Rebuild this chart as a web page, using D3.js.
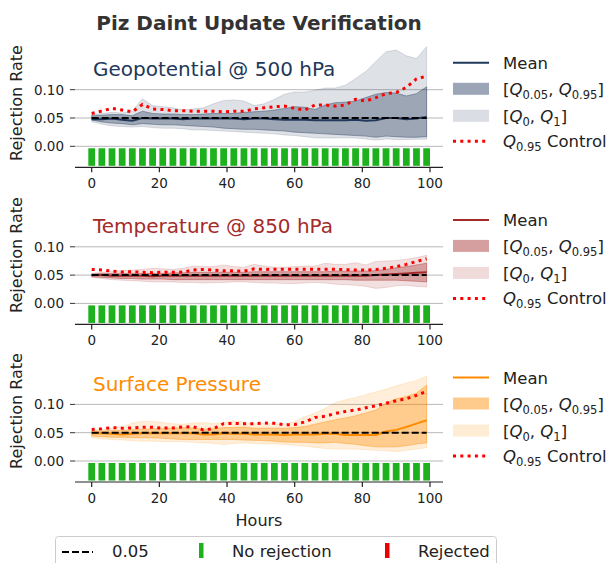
<!DOCTYPE html>
<html><head><meta charset="utf-8">
<script src="https://cdn.jsdelivr.net/npm/d3@7"></script>
<style>body{margin:0;background:#fff}svg{display:block}text{font-family:"DejaVu Sans",sans-serif}</style>
</head><body><svg id="c" width="611" height="563"></svg>
<script>
const hours = [0,3,6,9,12,15,18,21,24,27,30,33,36,39,42,45,48,51,54,57,60,63,66,69,72,75,78,81,84,87,90,93,96,99];
const xTicks = [0,20,40,60,80,100];
const yTicks = [0.00,0.05,0.10];
const threshold = 0.05;

const geoMean = [0.048,0.048,0.049,0.047,0.045,0.050,0.049,0.049,0.049,0.048,0.049,0.049,0.049,0.049,0.049,0.048,0.049,0.049,0.048,0.047,0.047,0.047,0.046,0.046,0.046,0.046,0.047,0.045,0.046,0.050,0.050,0.048,0.049,0.052];
const geoQ05 = [0.0465,0.043,0.041,0.040,0.038,0.040,0.039,0.038,0.038,0.037,0.036,0.035,0.034,0.032,0.031,0.030,0.030,0.029,0.028,0.027,0.025,0.024,0.023,0.022,0.021,0.020,0.019,0.018,0.016,0.018,0.017,0.016,0.016,0.017];
const geoQ95 = [0.054,0.055,0.056,0.056,0.054,0.062,0.058,0.057,0.057,0.056,0.056,0.057,0.058,0.058,0.058,0.060,0.061,0.062,0.064,0.067,0.070,0.069,0.065,0.073,0.077,0.078,0.080,0.086,0.092,0.095,0.094,0.089,0.093,0.105];
const geoQ0 = [0.0435,0.039,0.036,0.035,0.034,0.035,0.033,0.032,0.032,0.031,0.029,0.029,0.028,0.027,0.026,0.025,0.024,0.023,0.022,0.020,0.019,0.017,0.015,0.0145,0.0145,0.015,0.0145,0.013,0.011,0.013,0.012,0.012,0.0125,0.0125];
const geoQ1 = [0.056,0.058,0.060,0.059,0.062,0.084,0.072,0.070,0.068,0.064,0.066,0.068,0.075,0.081,0.082,0.080,0.072,0.075,0.083,0.092,0.096,0.096,0.099,0.103,0.103,0.108,0.120,0.132,0.150,0.167,0.170,0.160,0.155,0.176];
const geoCtrl = [0.058,0.0625,0.067,0.064,0.061,0.074,0.066,0.065,0.063,0.063,0.062,0.062,0.062,0.061,0.062,0.062,0.066,0.068,0.070,0.071,0.067,0.064,0.073,0.073,0.071,0.073,0.083,0.080,0.086,0.093,0.095,0.104,0.119,0.124];
const geoRejected = [0,0,0,0,0,0,0,0,0,0,0,0,0,0,0,0,0,0,0,0,0,0,0,0,0,0,0,0,0,0,0,0,0,0];

const tMean = [0.050,0.050,0.049,0.049,0.049,0.049,0.048,0.049,0.049,0.049,0.049,0.049,0.049,0.049,0.049,0.049,0.049,0.049,0.049,0.049,0.049,0.049,0.049,0.049,0.049,0.049,0.049,0.049,0.050,0.051,0.052,0.053,0.054,0.055];
const tQ05 = [0.047,0.046,0.045,0.044,0.044,0.043,0.043,0.043,0.042,0.042,0.042,0.042,0.042,0.042,0.042,0.042,0.042,0.042,0.042,0.042,0.042,0.042,0.042,0.042,0.042,0.042,0.041,0.041,0.041,0.041,0.041,0.040,0.039,0.038];
const tQ95 = [0.052,0.053,0.053,0.053,0.053,0.053,0.053,0.053,0.054,0.054,0.055,0.055,0.055,0.055,0.055,0.055,0.056,0.056,0.056,0.056,0.056,0.056,0.056,0.056,0.057,0.057,0.057,0.057,0.058,0.060,0.063,0.065,0.068,0.071];
const tQ0 = [0.046,0.044,0.042,0.041,0.040,0.039,0.038,0.038,0.038,0.037,0.037,0.036,0.0365,0.037,0.038,0.038,0.037,0.036,0.036,0.035,0.035,0.036,0.037,0.036,0.034,0.033,0.032,0.030,0.0265,0.028,0.031,0.032,0.030,0.029];
const tQ1 = [0.053,0.055,0.057,0.058,0.059,0.060,0.062,0.061,0.060,0.062,0.066,0.065,0.065,0.068,0.065,0.064,0.069,0.066,0.064,0.064,0.065,0.066,0.066,0.071,0.069,0.069,0.072,0.068,0.074,0.075,0.076,0.078,0.081,0.085];
const tCtrl = [0.060,0.059,0.057,0.0555,0.056,0.055,0.0543,0.055,0.055,0.0553,0.059,0.060,0.059,0.0575,0.0575,0.057,0.061,0.060,0.0605,0.0605,0.0605,0.0605,0.0605,0.0605,0.0605,0.0595,0.059,0.0588,0.060,0.062,0.065,0.069,0.074,0.079];
const tRejected = [0,0,0,0,0,0,0,0,0,0,0,0,0,0,0,0,0,0,0,0,0,0,0,0,0,0,0,0,0,0,0,0,0,0];

const spMean = [0.049,0.049,0.048,0.047,0.048,0.049,0.049,0.049,0.049,0.049,0.049,0.047,0.047,0.049,0.048,0.048,0.047,0.047,0.047,0.046,0.047,0.047,0.047,0.048,0.048,0.046,0.046,0.046,0.046,0.052,0.055,0.060,0.066,0.072];
const spQ05 = [0.044,0.043,0.042,0.042,0.041,0.041,0.041,0.040,0.039,0.038,0.038,0.038,0.038,0.038,0.038,0.037,0.0365,0.036,0.035,0.0335,0.033,0.033,0.032,0.032,0.033,0.031,0.0294,0.027,0.025,0.025,0.025,0.027,0.030,0.032];
const spQ95 = [0.053,0.053,0.054,0.054,0.055,0.056,0.057,0.057,0.058,0.059,0.058,0.056,0.057,0.059,0.059,0.060,0.058,0.058,0.058,0.058,0.059,0.061,0.065,0.069,0.073,0.076,0.080,0.085,0.090,0.102,0.110,0.114,0.120,0.134];
const spQ0 = [0.041,0.039,0.038,0.037,0.036,0.035,0.035,0.034,0.034,0.034,0.033,0.032,0.031,0.029,0.031,0.032,0.031,0.030,0.030,0.029,0.028,0.026,0.024,0.022,0.021,0.021,0.021,0.020,0.019,0.018,0.0165,0.019,0.021,0.0235];
const spQ1 = [0.054,0.056,0.058,0.060,0.067,0.070,0.070,0.068,0.066,0.065,0.067,0.068,0.066,0.068,0.071,0.069,0.066,0.066,0.066,0.065,0.070,0.078,0.085,0.093,0.103,0.108,0.112,0.117,0.122,0.127,0.133,0.138,0.142,0.150];
const spCtrl = [0.0555,0.057,0.059,0.058,0.0585,0.0595,0.0595,0.058,0.0585,0.060,0.0605,0.055,0.057,0.066,0.0665,0.066,0.066,0.067,0.0665,0.064,0.0645,0.069,0.077,0.079,0.084,0.0875,0.090,0.094,0.0975,0.102,0.1065,0.110,0.116,0.123];
const spRejected = [0,0,0,0,0,0,0,0,0,0,0,0,0,0,0,0,0,0,0,0,0,0,0,0,0,0,0,0,0,0,0,0,0,0];

const panelTitles = ["Geopotential @ 500 hPa","Temperature @ 850 hPa","Surface Pressure"];
const panelColors = ["#22385a","#a52a2a","#ff8c00"];
const panels = [
  {title:panelTitles[0], color:panelColors[0], mean:geoMean, q05:geoQ05, q95:geoQ95, q0:geoQ0, q1:geoQ1, ctrl:geoCtrl, rej:geoRejected, zero:146.3, yl:103},
  {title:panelTitles[1], color:panelColors[1], mean:tMean, q05:tQ05, q95:tQ95, q0:tQ0, q1:tQ1, ctrl:tCtrl, rej:tRejected, zero:303.4, yl:255},
  {title:panelTitles[2], color:panelColors[2], mean:spMean, q05:spQ05, q95:spQ95, q0:spQ0, q1:spQ1, ctrl:spCtrl, rej:spRejected, zero:461, yl:411}
];

const svg = d3.select("#c");
const GREEN = "#1db11d", RED = "#ee0000";
const axL = 75, axR = 443;
const x = d3.scaleLinear().domain([0,100]).range([91.7,430]);
const PX = 566;

svg.append("text").attr("x",259).attr("y",30).attr("text-anchor","middle")
  .attr("font-size",20).attr("font-weight","bold").attr("fill","#333").text("Piz Daint Update Verification");

function mathLabel(g, xx, yy, parts, fs){
  const t = g.append("text").attr("x",xx).attr("y",yy).attr("font-size",fs).attr("fill","#222");
  parts.forEach(p=>{
    const s = t.append("tspan").text(p.t);
    if(p.i) s.attr("font-style","italic");
    if(p.sub){ s.attr("font-size",fs*0.7).attr("dy",4); }
    if(p.up){ s.attr("dy",-4); }
  });
}

panels.forEach((p,pi)=>{
  const y = d3.scaleLinear().domain([-0.037,0.18]).range([p.zero+0.037*PX, p.zero-0.18*PX]);
  const g = svg.append("g");
  yTicks.forEach(v=>{
    g.append("line").attr("x1",axL).attr("x2",axR).attr("y1",y(v)).attr("y2",y(v))
      .attr("stroke","#b8b8b8").attr("stroke-width",1);
    g.append("line").attr("x1",axL-5).attr("x2",axL).attr("y1",y(v)).attr("y2",y(v))
      .attr("stroke","#333").attr("stroke-width",1);
    g.append("text").attr("x",axL-11).attr("y",y(v)+5).attr("text-anchor","end")
      .attr("font-size",13.5).attr("fill","#222").text(v.toFixed(2));
  });
  const idx = d3.range(hours.length);
  const outer = d3.area().x(i=>x(hours[i])).y0(i=>y(p.q0[i])).y1(i=>y(p.q1[i]));
  const inner = d3.area().x(i=>x(hours[i])).y0(i=>y(p.q05[i])).y1(i=>y(p.q95[i]));
  g.append("path").attr("d",outer(idx)).attr("fill",p.color).attr("fill-opacity",0.15)
    .attr("stroke",p.color).attr("stroke-opacity",0.15).attr("stroke-width",1);
  g.append("path").attr("d",inner(idx)).attr("fill",p.color).attr("fill-opacity",0.35)
    .attr("stroke",p.color).attr("stroke-opacity",0.4).attr("stroke-width",1);
  const ln = arr => d3.line().x(i=>x(hours[i])).y(i=>y(arr[i]))(idx);
  g.append("path").attr("d",ln(p.mean)).attr("fill","none").attr("stroke",p.color).attr("stroke-width",2);
  g.append("line").attr("x1",x(hours[0])).attr("x2",x(hours[hours.length-1]))
    .attr("y1",y(threshold)).attr("y2",y(threshold)).attr("stroke","#000").attr("stroke-width",2)
    .attr("stroke-dasharray","7,3");
  g.append("path").attr("d",ln(p.ctrl)).attr("fill","none").attr("stroke","#ff0000").attr("stroke-width",3)
    .attr("stroke-dasharray","3,4.3");
  const bw = x(2)-x(0);
  g.selectAll("rect.bar").data(idx).enter().append("rect")
    .attr("x",i=>x(hours[i])-bw/2).attr("width",bw)
    .attr("y",y(-0.0035)).attr("height",y(-0.0345)-y(-0.0035))
    .attr("fill",i=>p.rej[i]?RED:GREEN);
  const sy = p.zero+21;
  g.append("line").attr("x1",axL).attr("x2",axR).attr("y1",sy).attr("y2",sy).attr("stroke","#222").attr("stroke-width",1.2);
  xTicks.forEach(v=>{
    g.append("line").attr("x1",x(v)).attr("x2",x(v)).attr("y1",sy).attr("y2",sy+5).attr("stroke","#222").attr("stroke-width",1.2);
    g.append("text").attr("x",x(v)).attr("y",sy+21).attr("text-anchor","middle").attr("font-size",13.5).attr("fill","#222").text(v);
  });
  g.append("text").attr("x",93).attr("y",p.zero-70).attr("font-size",20).attr("fill",p.color).text(p.title);
  g.append("text").attr("transform",`translate(22,${p.yl}) rotate(-90)`).attr("text-anchor","middle")
    .attr("font-size",16).attr("fill","#222").text("Rejection Rate");
  const lx = 453, lw = 36, tx = 503, fs = 16.5;
  const r0 = p.zero-83.5, r1 = p.zero-57.5, r2 = p.zero-30.5, r3 = p.zero-5;
  g.append("line").attr("x1",lx).attr("x2",lx+lw).attr("y1",r0).attr("y2",r0).attr("stroke",p.color).attr("stroke-width",2);
  g.append("text").attr("x",tx).attr("y",r0+6).attr("font-size",fs).attr("fill","#222").text("Mean");
  g.append("rect").attr("x",lx).attr("y",r1-6).attr("width",lw).attr("height",12).attr("fill",p.color).attr("fill-opacity",0.45);
  mathLabel(g,tx,r1+6,[{t:"["},{t:"Q",i:1},{t:"0.05",sub:1},{t:", ",up:1},{t:"Q",i:1},{t:"0.95",sub:1},{t:"]",up:1}],fs);
  g.append("rect").attr("x",lx).attr("y",r2-6).attr("width",lw).attr("height",12).attr("fill",p.color).attr("fill-opacity",0.17);
  mathLabel(g,tx,r2+6,[{t:"["},{t:"Q",i:1},{t:"0",sub:1},{t:", ",up:1},{t:"Q",i:1},{t:"1",sub:1},{t:"]",up:1}],fs);
  g.append("line").attr("x1",lx).attr("x2",lx+lw).attr("y1",r3).attr("y2",r3).attr("stroke","#ff0000").attr("stroke-width",3).attr("stroke-dasharray","3,4.3");
  mathLabel(g,tx,r3+6,[{t:"Q",i:1},{t:"0.95",sub:1},{t:" Control",up:1}],fs);
});

svg.append("text").attr("x",259).attr("y",526).attr("text-anchor","middle").attr("font-size",16).attr("fill","#222").text("Hours");

const lg = svg.append("g");
lg.append("rect").attr("x",55.5).attr("y",536.5).attr("width",441).attr("height",40).attr("rx",3)
  .attr("fill","#fff").attr("stroke","#cccccc").attr("stroke-width",1);
lg.append("line").attr("x1",62).attr("x2",93).attr("y1",552).attr("y2",552).attr("stroke","#000").attr("stroke-width",2).attr("stroke-dasharray","7,3");
lg.append("text").attr("x",112).attr("y",557).attr("font-size",16.5).attr("fill","#222").text("0.05");
lg.append("rect").attr("x",199).attr("y",543).attr("width",4.5).attr("height",15).attr("fill",GREEN);
lg.append("text").attr("x",232).attr("y",557).attr("font-size",16.5).attr("fill","#222").text("No rejection");
lg.append("rect").attr("x",385).attr("y",543).attr("width",4.5).attr("height",15).attr("fill",RED);
lg.append("text").attr("x",418).attr("y",557).attr("font-size",16.5).attr("fill","#222").text("Rejected");
</script></body></html>
